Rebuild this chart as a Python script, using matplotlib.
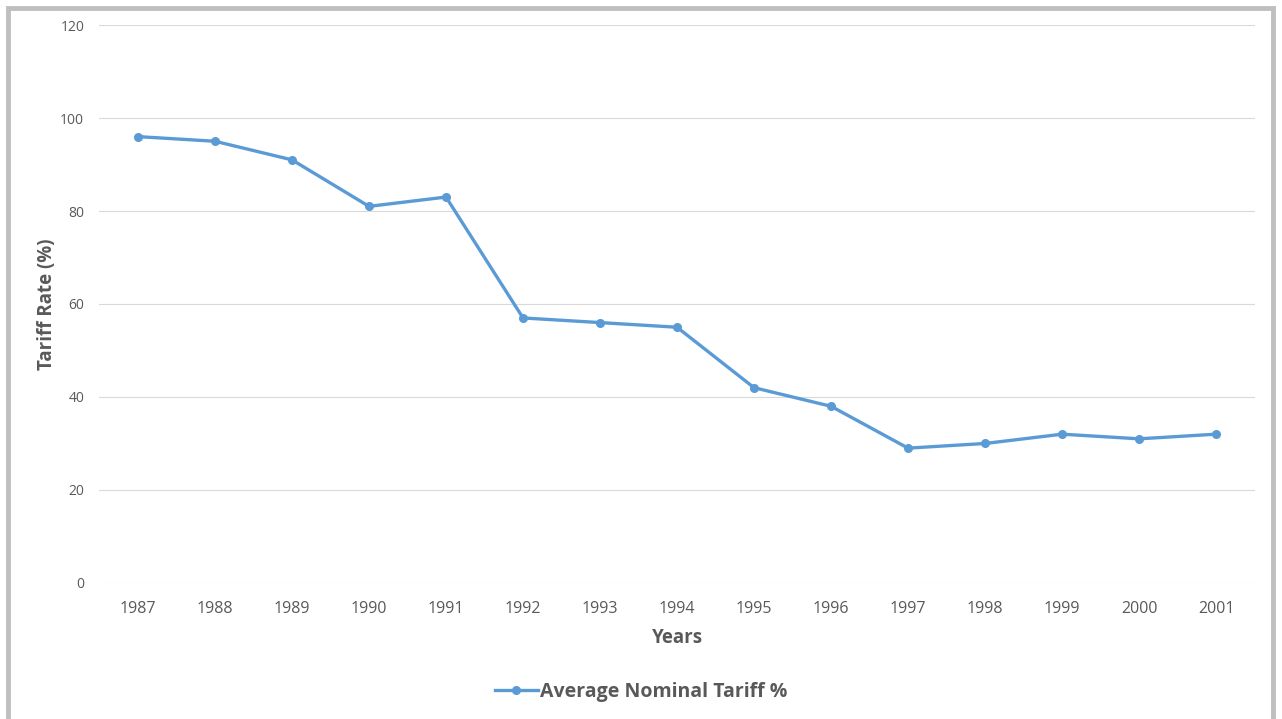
import matplotlib.pyplot as plt
from matplotlib.patches import Rectangle

years = ["1987", "1988", "1989", "1990", "1991", "1992", "1993", "1994",
         "1995", "1996", "1997", "1998", "1999", "2000", "2001"]
tariff = [96, 95, 91, 81, 83, 57, 56, 55, 42, 38, 29, 30, 32, 31, 32]
y_ticks = [0, 20, 40, 60, 80, 100, 120]

plt.rcParams["font.family"] = ["Open Sans", "DejaVu Sans"]
text_color = "#595959"

fig = plt.figure(figsize=(12.82, 7.19), dpi=100)
ax = fig.add_axes([0.0776, 0.1892, 0.901, 0.776])

x = list(range(len(years)))
ax.plot(x, tariff, color="#5b9bd5", linewidth=2.4, marker="o", markersize=5.5,
        label="Average Nominal Tariff %")

ax.set_xlim(-0.5, len(years) - 0.5)
ax.set_ylim(0, 120)
ax.set_xticks(x)
ax.set_xticklabels(years)
ax.set_yticks(y_ticks)
ax.tick_params(axis="x", length=0, labelsize=11.5, labelcolor=text_color, pad=13)
ax.tick_params(axis="y", length=0, labelsize=10, labelcolor=text_color, pad=11)
ax.grid(axis="y", color="#d9d9d9", linewidth=0.8)
ax.set_axisbelow(True)
for s in ax.spines.values():
    s.set_visible(False)

ax.set_xlabel("Years", fontsize=13.5, fontweight="bold", color=text_color, labelpad=8)
ax.set_ylabel("Tariff Rate (%)", fontsize=13.5, fontweight="bold", color=text_color)
ax.yaxis.set_label_coords(-0.037, 0.5)

leg = fig.legend(loc="center", bbox_to_anchor=(0.5, 0.038), frameon=False,
                 prop={"size": 14, "weight": "bold"}, handlelength=2.2,
                 handletextpad=0.1, labelcolor=text_color)

# spreadsheet chart frame
fig.patches.append(Rectangle((8 / 1282, -0.05), 1265 / 1282, 1 - 8 / 719 + 0.05,
                             transform=fig.transFigure, fill=False,
                             edgecolor="#bfbfbf", linewidth=3.5))

fig.savefig("out.png", dpi=100, facecolor="white")
